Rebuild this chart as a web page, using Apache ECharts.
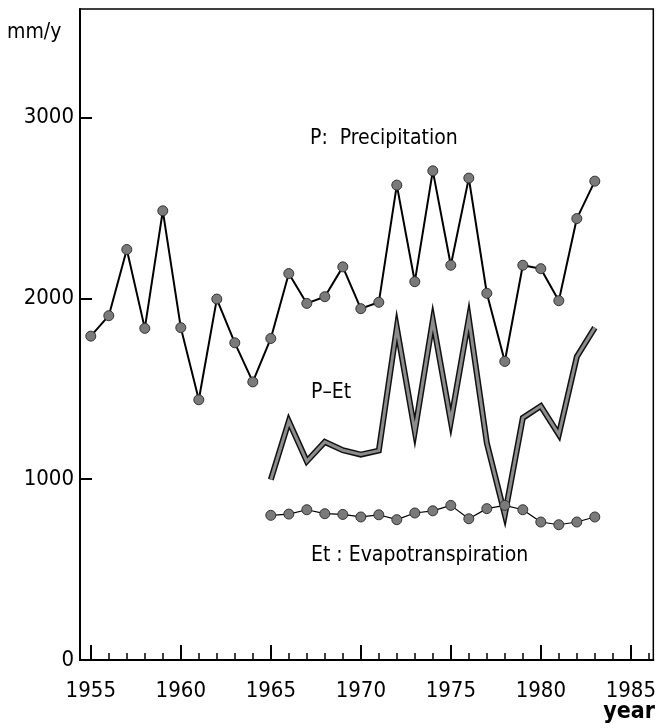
<!DOCTYPE html>
<html>
<head>
<meta charset="utf-8">
<script src="https://cdn.jsdelivr.net/npm/echarts@6/dist/echarts.min.js"></script>
<style>
html, body { margin: 0; padding: 0; background: #fff; }
#chart { width: 659px; height: 728px; }
</style>
</head>
<body>
<div id="chart"></div>
<script>
// data (mm/y)
var pYears = [1955, 1956, 1957, 1958, 1959, 1960, 1961, 1962, 1963, 1964,
    1965, 1966, 1967, 1968, 1969, 1970, 1971, 1972, 1973, 1974,
    1975, 1976, 1977, 1978, 1979, 1980, 1981, 1982, 1983];
var precipitation = [1791, 1904, 2270, 1834, 2484, 1838, 1439, 1996, 1754, 1538,
    1778, 2137, 1972, 2009, 2174, 1943, 1978, 2626, 2092, 2705,
    2183, 2665, 2028, 1651, 2183, 2164, 1987, 2441, 2648];

var etYears = [1965, 1966, 1967, 1968, 1969, 1970, 1971, 1972, 1973, 1974,
    1975, 1976, 1977, 1978, 1979, 1980, 1981, 1982, 1983];
var evapotranspiration = [800, 807, 831, 809, 805, 791, 803, 776, 813, 825,
    855, 781, 837, 855, 831, 763, 748, 763, 791];
var pMinusEt = [997, 1320, 1099, 1206, 1160, 1136, 1158, 1838, 1265, 1878,
    1320, 1888, 1200, 803, 1339, 1404, 1247, 1677, 1838];

var minorTicks = [];
for (var y = 1955; y <= 1986; y++) minorTicks.push(y);
var majorTicks = [1955, 1960, 1965, 1970, 1975, 1980, 1985];
var yTicks = [0, 1000, 2000, 3000];

var FONT = "'DejaVu Sans Condensed', 'Liberation Sans Narrow', sans-serif";

var pairs = function(xs, vs) {
    var out = [];
    for (var i = 0; i < xs.length; i++) out.push([xs[i], vs[i]]);
    return out;
};

var chart = echarts.init(document.getElementById('chart'));
var option = {
    animation: false,
    backgroundColor: '#fff',
    grid: {
        left: 80, right: 2, top: 9, bottom: 68,
        show: true,
        borderColor: '#000',
        borderWidth: 1.5
    },
    xAxis: [{
        type: 'value',
        min: 1954.4,
        max: 1986.25,
        position: 'bottom',
        axisLine: { show: true, onZero: false, lineStyle: { color: '#000', width: 2 } },
        axisTick: { show: true, inside: true, length: 7, customValues: minorTicks, lineStyle: { color: '#000', width: 1.5 } },
        axisLabel: { show: false },
        splitLine: { show: false }
    }, {
        type: 'value',
        min: 1954.4,
        max: 1986.25,
        position: 'bottom',
        axisLine: { show: false, onZero: false },
        axisTick: { show: true, inside: true, length: 15, customValues: majorTicks, lineStyle: { color: '#000', width: 2 } },
        axisLabel: {
            show: true,
            customValues: majorTicks,
            margin: 20,
            color: '#000',
            fontFamily: FONT,
            fontSize: 22,
            formatter: function(v) { return String(v); }
        },
        splitLine: { show: false }
    }],
    yAxis: {
        type: 'value',
        min: 0,
        max: 3600,
        axisLine: { show: true, lineStyle: { color: '#000', width: 2 } },
        axisTick: { show: true, inside: true, length: 12, customValues: yTicks, lineStyle: { color: '#000', width: 2 } },
        axisLabel: {
            show: true,
            customValues: yTicks,
            margin: 6,
            color: '#000',
            fontFamily: FONT,
            fontSize: 22,
            formatter: function(v) { return String(v); }
        },
        splitLine: { show: false }
    },
    series: [{
        name: 'P-Et outline',
        type: 'line',
        data: pairs(etYears, pMinusEt),
        showSymbol: false,
        symbol: 'none',
        lineStyle: { color: '#111', width: 6, join: 'miter' },
        z: 2
    }, {
        name: 'P-Et',
        type: 'line',
        data: pairs(etYears, pMinusEt),
        showSymbol: false,
        symbol: 'none',
        lineStyle: { color: '#8c8c8c', width: 3, join: 'miter' },
        z: 3
    }, {
        name: 'Et',
        type: 'line',
        data: pairs(etYears, evapotranspiration),
        symbol: 'circle',
        symbolSize: 10,
        itemStyle: { color: '#7a7a7a', borderColor: '#333', borderWidth: 1 },
        lineStyle: { color: '#000', width: 1.2 },
        z: 4
    }, {
        name: 'P',
        type: 'line',
        data: pairs(pYears, precipitation),
        symbol: 'circle',
        symbolSize: 10,
        itemStyle: { color: '#7a7a7a', borderColor: '#333', borderWidth: 1 },
        lineStyle: { color: '#000', width: 2 },
        z: 5
    }],
    graphic: [{
        type: 'text', left: 7, top: 22,
        style: { text: 'mm/y', fill: '#000', font: '21px ' + FONT }
    }, {
        type: 'text', left: 310, top: 128,
        style: { text: 'P:  Precipitation', fill: '#000', font: '21px ' + FONT }
    }, {
        type: 'text', left: 311, top: 382,
        style: { text: 'P\u2013Et', fill: '#000', font: '21px ' + FONT }
    }, {
        type: 'text', left: 311, top: 545,
        style: { text: 'Et : Evapotranspiration', fill: '#000', font: '21px ' + FONT }
    }, {
        type: 'text', right: 4, top: 701,
        style: { text: 'year', fill: '#000', font: 'bold 23px ' + FONT }
    }]
};
chart.setOption(option);
</script>
</body>
</html>
